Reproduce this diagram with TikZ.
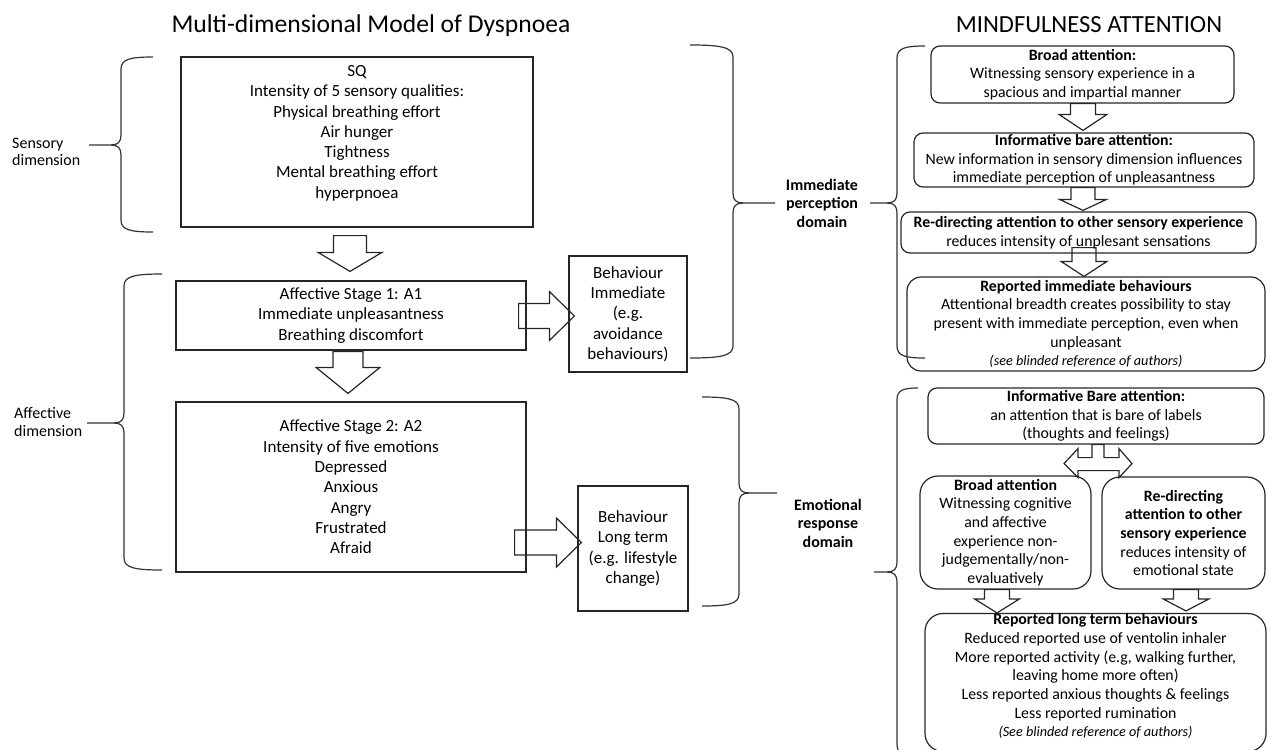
\documentclass[tikz,border=0pt]{standalone}
\usepackage{fontspec}
\setmainfont{Carlito}
\usetikzlibrary{calc}

% curly bracket: end x, top y, bottom y, spine x, tip x, tip y
\newcommand{\brc}[6]{%
  \pgfmathsetmacro{\brs}{ifthenelse(#5>#4,1,-1)}%
  \draw[curly] (#1,#2) .. controls ({#4+0.3*(#1-#4)},#2) and (#4,{#2+2}) .. (#4,{#2+12})
     -- (#4,{#6-10}) .. controls (#4,{#6-3}) and ({#4+\brs*3},#6) .. ({#4+\brs*10},#6) -- (#5,#6);
  \draw[curly] (#1,#3) .. controls ({#4+0.3*(#1-#4)},#3) and (#4,{#3-2}) .. (#4,{#3-12})
     -- (#4,{#6+10}) .. controls (#4,{#6+3}) and ({#4+\brs*3},#6) .. ({#4+\brs*10},#6);
}
% block arrows: from, tip, half shaft, half head, head length
\newcommand{\blkdown}[5]{%
  \draw[blk] let \p1=(#1), \p2=(#2) in
    ({\x2-#3},\y1) -- ({\x2-#3},{\y2+#5}) -- ({\x2-#4},{\y2+#5}) -- (\x2,\y2)
    -- ({\x2+#4},{\y2+#5}) -- ({\x2+#3},{\y2+#5}) -- ({\x2+#3},\y1) -- cycle;}
\newcommand{\blkright}[5]{%
  \draw[blk] let \p1=(#1), \p2=(#2) in
    (\x1,{\y2+#3}) -- ({\x2-#5},{\y2+#3}) -- ({\x2-#5},{\y2+#4}) -- (\x2,\y2)
    -- ({\x2-#5},{\y2-#4}) -- ({\x2-#5},{\y2-#3}) -- (\x1,{\y2-#3}) -- cycle;}

\begin{document}
\begin{tikzpicture}[x=1pt,y=-1pt,
    box/.style={draw=black!85,line width=1.2pt,inner sep=0pt,align=center,font=\fontsize{17}{20.3}\selectfont},
    rbox/.style={box,rounded corners=9pt,font=\fontsize{15.8}{18.7}\selectfont},
    lbl/.style={inner sep=0pt,align=left,font=\fontsize{16}{17.5}\selectfont},
    dom/.style={inner sep=0pt,align=center,font=\fontsize{16}{18.5}\selectfont\bfseries},
    ttl/.style={inner sep=0pt,font=\fontsize{25.6}{30}\selectfont},
    blk/.style={draw=black!85,line width=1.2pt,line join=miter},
    curly/.style={draw=black!80,line width=1.2pt}]

  \useasboundingbox (0,0) rectangle (1267,750);
  \clip (0,0) rectangle (1267,750);

  % titles
  \node[ttl] (ttlmodel) at (371,26) {Multi-dimensional Model of Dyspnoea};
  \node[ttl,font=\fontsize{24.6}{30}\selectfont] (ttlmind) at (1089,25) {MINDFULNESS ATTENTION};

  % left model
  \node[box,minimum width=352,minimum height=170] (sq) at (357,142)
    {SQ\\Intensity of 5 sensory qualities:\\Physical breathing effort\\Air hunger\\Tightness\\Mental breathing effort\\hyperpnoea\\ \mbox{}};
  \node[box,minimum width=350,minimum height=69] (a1) at (351,315.5)
    {Affective Stage 1: A1\\Immediate unpleasantness\\Breathing discomfort};
  \node[box,minimum width=350,minimum height=170] (a2) at (351,487)
    {Affective Stage 2: A2\\Intensity of five emotions\\Depressed\\Anxious\\Angry\\Frustrated\\Afraid};
  \node[box,minimum width=118,minimum height=116] (bimm) at (628,314)
    {Behaviour\\Immediate\\(e.g.\\avoidance\\behaviours)};
  \node[box,minimum width=110,minimum height=125] (blt) at (633,548.5)
    {Behaviour\\Long term\\(e.g. lifestyle\\change)};

  \node[lbl,anchor=west] (sens) at (12,152) {Sensory\\dimension};
  \node[lbl,anchor=west] (aff) at (14,422) {Affective\\dimension};
  \node[dom] (ipd) at (822,203) {Immediate\\perception\\domain};
  \node[dom] (erd) at (828,523) {Emotional\\response\\domain};

  % mindfulness column
  \node[rbox,minimum width=303,minimum height=57] (b1) at (1082.5,74.5)
    {\textbf{Broad attention:}\\Witnessing sensory experience in a\\spacious and impartial manner};
  \node[rbox,minimum width=340,minimum height=54] (b2) at (1084,160)
    {\textbf{Informative bare attention:}\\New information in sensory dimension influences\\immediate perception of unpleasantness};
  \node[rbox,minimum width=355,minimum height=41] (b3) at (1078.5,232.5)
    {\textbf{Re-directing attention to other sensory experience}\\reduces intensity of unplesant sensations};
  \node[rbox,minimum width=358,minimum height=94,rounded corners=14pt] (b4) at (1086,324)
    {\textbf{Reported immediate behaviours}\\Attentional breadth creates possibility to stay\\present with immediate perception, even when\\unpleasant\\{\fontsize{14.2}{18}\selectfont\itshape (see blinded reference of authors)}};
  \node[rbox,minimum width=336,minimum height=56] (e1) at (1096,416)
    {\textbf{Informative Bare attention:}\\an attention that is bare of labels\\(thoughts and feelings)};
  \node[rbox,minimum width=171,minimum height=113,rounded corners=18pt] (e2) at (1005.5,532.5)
    {\textbf{Broad attention}\\Witnessing cognitive\\and affective\\experience non-\\judgementally/non-\\evaluatively};
  \node[rbox,minimum width=163,minimum height=112,rounded corners=18pt] (e3) at (1183.5,533)
    {\textbf{Re-directing}\\\textbf{attention to other}\\\textbf{sensory experience}\\reduces intensity of\\emotional state};
  \node[rbox,minimum width=341,minimum height=133,rounded corners=18pt] (e4) at (1095.5,682.5)
    {\textbf{Reported long term behaviours}\\Reduced reported use of ventolin inhaler\\More reported activity (e.g, walking further,\\leaving home more often)\\Less reported anxious thoughts \& feelings\\Less reported rumination\\{\fontsize{14.2}{18}\selectfont\itshape (See blinded reference of authors)}\\[-4pt]\mbox{}};

  % block arrows
  \blkdown{$(sq.south)+(-7,8)$}{$(a1.north)+(-1,-9)$}{16.5}{32}{19}
  \blkdown{$(a1.south)+(-3,1)$}{$(a2.north)+(-3,-8)$}{15}{32}{26}
  \blkright{$(a1.east)+(-8,0)$}{$(bimm.west)+(6,2)$}{12.5}{24.5}{25}
  \blkright{$(a2.east)+(-12,0)$}{$(blt.west)+(4,-6)$}{12.5}{24.5}{25}
  \blkdown{b1.south}{$(b2.north)+(-1,-2)$}{12.5}{24}{16}
  \blkdown{b2.south}{$(b3.north)+(4.5,-1)$}{12}{23.5}{11}
  \blkdown{$(b3.south)+(0,-6)$}{$(b4.north)+(-2,0)$}{12}{23}{15}
  \blkdown{$(e2.south)+(-8.5,0)$}{$(e4.north)+(-98.5,0)$}{12.5}{22.5}{14}
  \blkdown{e3.south}{$(e4.north)+(90.5,-2)$}{12.5}{23}{12}
  \draw[blk] let \p1=($(e1.south)+(2,0)$) in
    ({\x1-6},\y1) -- ({\x1-6},{\y1-13}) -- ({\x1-20},{\y1-13}) -- ({\x1-20},{\y1-4})
    -- ({\x1-34},{\y1-19}) -- ({\x1-20},{\y1-33}) -- ({\x1-20},{\y1-26}) -- ({\x1+21},{\y1-26})
    -- ({\x1+21},{\y1-33}) -- ({\x1+34},{\y1-19}) -- ({\x1+21},{\y1-4}) -- ({\x1+21},{\y1-13})
    -- ({\x1+6},{\y1-13}) -- ({\x1+6},\y1) -- cycle;

  % braces
  \brc{153}{57}{232}{121}{89}{145}
  \brc{162}{274}{570}{124}{87}{423}
  \brc{690}{45}{358}{733}{775}{203}
  \brc{925}{46}{358}{897}{870}{203}
  \brc{702}{397}{606}{739}{777}{493}
  \brc{918}{388}{756}{897}{874}{572}
\end{tikzpicture}
\end{document}
